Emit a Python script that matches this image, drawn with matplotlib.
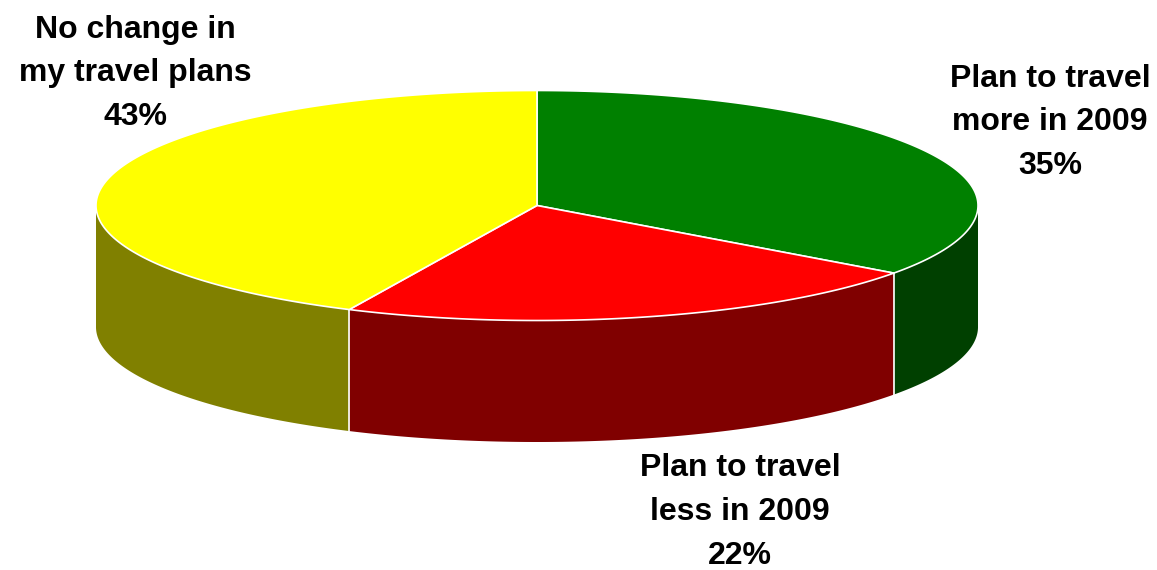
import numpy as np
import matplotlib
matplotlib.use("Agg")
import matplotlib.pyplot as plt
from matplotlib.patches import Polygon

categories = ["Plan to travel\nmore in 2009", "Plan to travel\nless in 2009", "No change in\nmy travel plans"]
shares = [35, 22, 43]
top_colors = ["#008000", "#FF0000", "#FFFF00"]
side_colors = ["#004000", "#800000", "#808000"]

# pie geometry, in pixels
CX, CY = 537, 205.5
RX, RY = 441, 115
DEPTH = 121.5
START = 90.0
LABEL_POS = [(1050, 122.5), (740, 512), (135, 73.5)]

plt.rcParams["font.family"] = ["Liberation Sans", "DejaVu Sans"]


def rim(a0, a1):
    t = np.radians(np.linspace(a0, a1, 200))
    return np.column_stack([CX + RX * np.cos(t), CY - RY * np.sin(t)])


def main():
    fig = plt.figure(figsize=(11.57, 5.70), dpi=100, facecolor="white")
    ax = fig.add_axes([0, 0, 1, 1])
    ax.set_xlim(0, 1157)
    ax.set_ylim(570, 0)
    ax.axis("off")

    angles = START - np.cumsum([0] + shares) * 3.6

    # side walls first, only the front half of the rim shows
    for i in range(len(shares)):
        a0, a1 = angles[i], angles[i + 1]
        lo, hi = max(a1, -180.0), min(a0, 0.0)
        if hi <= lo:
            continue
        upper = rim(hi, lo)
        lower = upper[::-1] + [0, DEPTH]
        ax.add_patch(Polygon(np.vstack([upper, lower]), closed=True,
                             facecolor=side_colors[i], edgecolor="none"))

    for i in range(len(shares)):
        pts = np.vstack([[CX, CY], rim(angles[i], angles[i + 1])])
        ax.add_patch(Polygon(pts, closed=True, facecolor=top_colors[i],
                             edgecolor="white", linewidth=1.2, joinstyle="round"))

    # white seams down the wall where slices meet
    for a in angles[1:-1]:
        x, y = rim(a, a)[0]
        ax.plot([x, x], [y, y + DEPTH], color="white", lw=1.2)

    for label, share, (x, y) in zip(categories, shares, LABEL_POS):
        ax.text(x, y, f"{label}\n{share}%", ha="center", va="center",
                fontsize=23, fontweight="bold", color="black", linespacing=1.6)

    fig.savefig("out.png", dpi=100)
    plt.close(fig)


if __name__ == "__main__":
    main()
